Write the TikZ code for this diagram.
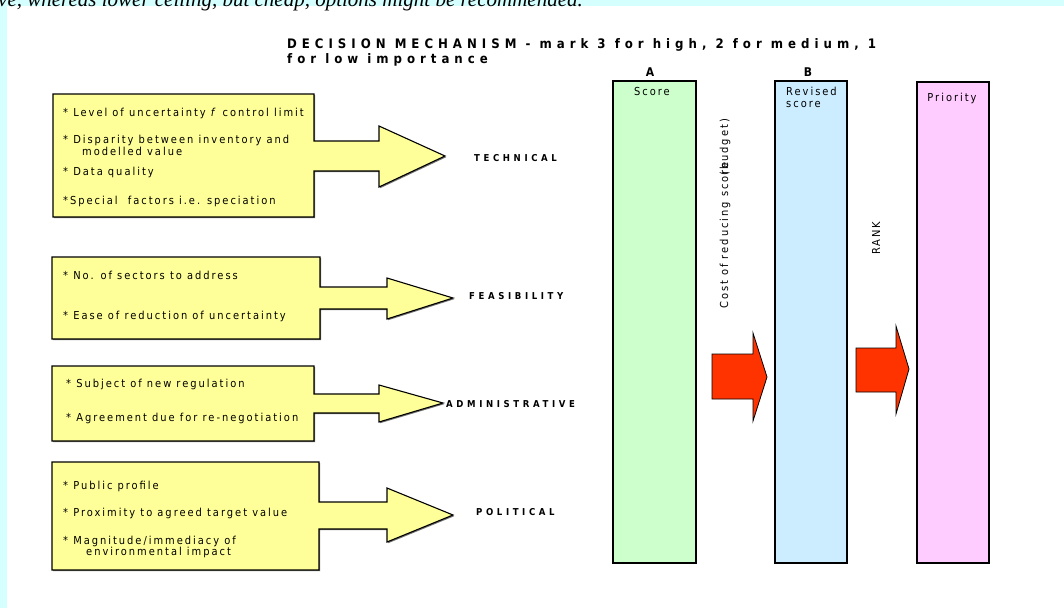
\documentclass[tikz,border=0pt]{standalone}
\usepackage{fontspec}
\setmainfont{DejaVu Sans}
\newfontfamily\bodyfont{DejaVu Sans}[FakeStretch=0.9,LetterSpace=18]
\newfontfamily\headfont{DejaVu Sans}[FakeStretch=0.9,LetterSpace=38]
\newfontfamily\notefont{Liberation Serif}
\usepackage{tikz}
\usetikzlibrary{positioning,shadows}
\usepackage{xcolor}
\definecolor{bgcyan}{HTML}{D5FFFF}
\definecolor{padyellow}{HTML}{FFFF99}
\definecolor{scoregreen}{HTML}{CCFFCC}
\definecolor{reviseblue}{HTML}{CCECFF}
\definecolor{prioritypink}{HTML}{FFCCFF}
\definecolor{pushred}{HTML}{FF3300}

\begin{document}
\begin{tikzpicture}[x=1pt, y=-1pt,
    yellowpad/.style={fill=padyellow, draw=black, line width=1.1pt, line join=miter,
      drop shadow={shadow xshift=1.2pt, shadow yshift=-1.2pt, fill=black!55, opacity=1}},
    scorecol/.style={draw=black, line width=1.1pt},
    redpush/.style={fill=pushred, draw=black, line width=0.8pt, line join=miter},
    itemtext/.style={anchor=base west, inner sep=0pt, font={\bodyfont\fontsize{11}{12}\selectfont}},
    factor/.style={anchor=base west, inner sep=0pt, font={\headfont\bfseries\fontsize{9.5}{11}\selectfont}},
    colhead/.style={anchor=base, inner sep=0pt, font={\headfont\bfseries\fontsize{12}{14}\selectfont}}]
  \useasboundingbox (0,0) rectangle (1064,608);
  % page
  \fill[bgcyan] (0,0) rectangle (1064,608);
  \fill[white] (7,6) rectangle (1064,608);
  \node[anchor=base east, inner sep=0pt, font={\notefont\itshape\fontsize{21}{24}\selectfont}] (note) at (583,6)
    {ive, whereas lower ceiling, but cheap, options might be recommended.};
  % title
  \node[anchor=north west, inner sep=0pt, align=left, font={\headfont\bfseries\fontsize{13.1}{15}\selectfont}] (title) at (287,38)
    {DECISION MECHANISM - mark 3 for high, 2 for medium, 1\\for low importance};
  % yellow input boxes
  \path[yellowpad] (53,94) -- (314,94) -- (314,141) -- (379,141) -- (379,126) -- (445,156) -- (379,187)
    -- (379,171) -- (314,171) -- (314,217) -- (53,217) -- cycle;
  \path[yellowpad] (52,257) -- (320,257) -- (320,287) -- (387,287) -- (387,278) -- (453,298) -- (387,319)
    -- (387,309) -- (320,309) -- (320,339) -- (52,339) -- cycle;
  \path[yellowpad] (52,366) -- (314,366) -- (314,394) -- (379,394) -- (379,385) -- (443,403) -- (379,422)
    -- (379,413) -- (314,413) -- (314,441) -- (52,441) -- cycle;
  \path[yellowpad] (52,462) -- (319,462) -- (319,502) -- (387,502) -- (387,488) -- (453,515) -- (387,542)
    -- (387,529) -- (319,529) -- (319,570) -- (52,570) -- cycle;
  % technical
  \node[itemtext] (tech1) at (63,116.5) {* Level of uncertainty \textit{f} control limit};
  \node[itemtext] (tech2) at (63,143) {* Disparity between inventory and};
  \node[itemtext] (tech2b) at (82,155) {modelled value};
  \node[itemtext] (tech3) at (63,175.5) {* Data quality};
  \node[itemtext] (tech4) at (63,204) {*Special\ \ factors i.e. speciation};
  \node[factor] (technical) at (474,161.5) {TECHNICAL};
  % feasibility
  \node[itemtext] (feas1) at (63,279) {* No. of sectors to address};
  \node[itemtext] (feas2) at (63,319) {* Ease of reduction of uncertainty};
  \node[factor] (feasibility) at (469,299.5) {FEASIBILITY};
  % administrative
  \node[itemtext] (adm1) at (66,387.5) {* Subject of new regulation};
  \node[itemtext] (adm2) at (66,421) {* Agreement due for re-negotiation};
  \node[factor] (administrative) at (446,407.5) {ADMINISTRATIVE};
  % political
  \node[itemtext] (pol1) at (63,489) {* Public profile};
  \node[itemtext] (pol2) at (63,516) {* Proximity to agreed target value};
  \node[itemtext] (pol3) at (63,544) {* Magnitude/immediacy of};
  \node[itemtext] (pol3b) at (86,555.5) {environmental impact};
  \node[factor] (political) at (476,515.5) {POLITICAL};
  % score columns
  \draw[scorecol, fill=scoregreen] (613,81) rectangle (696,563);
  \draw[scorecol, fill=reviseblue] (775,81) rectangle (847,563);
  \draw[scorecol, fill=prioritypink] (917,82) rectangle (989,563);
  \node[colhead] (headA) at (650,76) {A};
  \node[colhead] (headB) at (808,76) {B};
  \node[itemtext, anchor=base] (score) at (652,95.5) {Score};
  \node[itemtext] (revised) at (786,95.5) {Revised};
  \node[itemtext] (revscore) at (786,107.5) {score};
  \node[itemtext, anchor=base] (priority) at (952,101.5) {Priority};
  % transitions
  \node[itemtext, rotate=90] (cost) at (728,309) {Cost of reducing score};
  \node[itemtext, rotate=90] (budget) at (728,176) {(budget)};
  \node[itemtext, rotate=90] (rank) at (880,255) {RANK};
  \path[redpush] (712,354) -- (753,354) -- (753,333) -- (767,377) -- (753,421) -- (753,399) -- (712,399) -- cycle;
  \path[redpush] (856,348) -- (896,348) -- (896,326) -- (909,369) -- (896,414) -- (896,392) -- (856,392) -- cycle;
\end{tikzpicture}
\end{document}
